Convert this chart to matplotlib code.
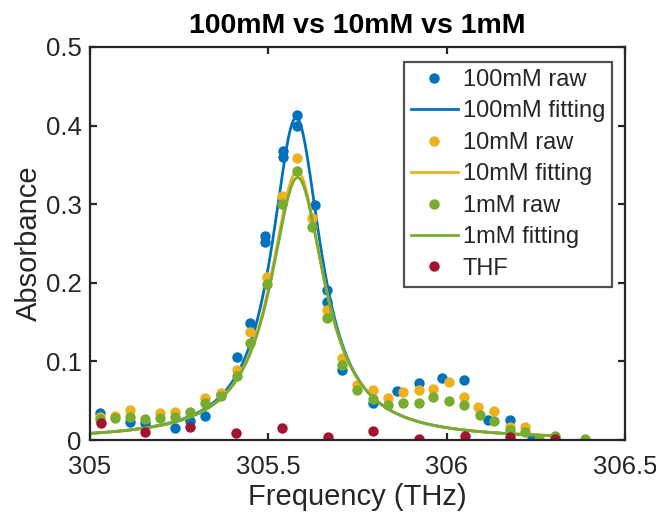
import numpy as np
import matplotlib
matplotlib.use("Agg")
import matplotlib.pyplot as plt

plt.rcParams['font.family'] = ['Liberation Sans', 'DejaVu Sans']

# ---- measured absorbance (THz, a.u.) ----
f_100 = [305.028, 305.112, 305.154, 305.238, 305.280, 305.322, 305.367, 305.412,
         305.449, 305.491, 305.491, 305.541, 305.541, 305.580, 305.580, 305.631,
         305.664, 305.664, 305.706, 305.793, 305.861, 305.922, 305.987, 306.049,
         306.116, 306.177, 306.239]
a_100 = [0.034, 0.023, 0.021, 0.015, 0.024, 0.030, 0.059, 0.105,
         0.149, 0.252, 0.259, 0.360, 0.368, 0.400, 0.414, 0.299,
         0.191, 0.176, 0.089, 0.047, 0.062, 0.073, 0.079, 0.076,
         0.025, 0.025, 0.001]

f_10 = [305.028, 305.070, 305.112, 305.196, 305.238, 305.322, 305.367, 305.412,
        305.449, 305.496, 305.538, 305.580, 305.622, 305.664, 305.706, 305.749,
        305.793, 305.835, 305.877, 305.922, 305.962, 306.006, 306.049, 306.088,
        306.133, 306.177, 306.220, 306.304]
a_10 = [0.029, 0.031, 0.038, 0.034, 0.036, 0.053, 0.060, 0.089,
        0.138, 0.208, 0.310, 0.359, 0.283, 0.165, 0.104, 0.070,
        0.064, 0.053, 0.061, 0.063, 0.065, 0.074, 0.055, 0.042,
        0.037, 0.017, 0.017, 0.001]

f_1 = [305.028, 305.070, 305.112, 305.154, 305.196, 305.238, 305.280, 305.322,
       305.367, 305.412, 305.449, 305.496, 305.538, 305.580, 305.622, 305.664,
       305.706, 305.749, 305.793, 305.835, 305.877, 305.922, 305.962, 306.006,
       306.049, 306.093, 306.133, 306.177, 306.220, 306.259, 306.304, 306.388]
a_1 = [0.027, 0.028, 0.029, 0.027, 0.028, 0.029, 0.036, 0.047,
       0.056, 0.082, 0.123, 0.198, 0.300, 0.342, 0.271, 0.155,
       0.095, 0.063, 0.052, 0.045, 0.047, 0.047, 0.055, 0.049,
       0.044, 0.032, 0.024, 0.013, 0.010, 0.001, 0.005, 0.001]

f_thf = [305.031, 305.154, 305.280, 305.409, 305.538, 305.666, 305.793,
         305.922, 306.051, 306.177, 306.304]
a_thf = [0.022, 0.010, 0.017, 0.009, 0.015, 0.004, 0.012,
         0.001, 0.005, 0.004, 0.001]

# ---- Lorentzian fit results: amplitude, centre (THz), half width (THz) ----
fit_100 = (0.410, 305.578, 0.084)
fit_10 = (0.342, 305.581, 0.092)
fit_1 = (0.334, 305.582, 0.093)
fit_range = (305.0, 306.31)


def lorentz(f, amp, f0, hw):
    return amp / (1.0 + ((f - f0) / hw) ** 2)


C_BLUE = '#0072BD'
C_ORANGE = '#EDB120'
C_GREEN = '#77AC30'
C_RED = '#A2142F'
DARK = '#262626'

fig = plt.figure(figsize=(6.56, 5.18), dpi=100)
ax = fig.add_axes([90 / 656, 1 - 440 / 518, 535 / 656, 393 / 518])

ff = np.linspace(*fit_range, 600)
ms = 7.5
lw = 2.0

ax.plot(f_100, a_100, 'o', color=C_BLUE, ms=ms, mec='none', label='100mM raw')
ax.plot(ff, lorentz(ff, *fit_100), '-', color=C_BLUE, lw=lw, label='100mM fitting')
ax.plot(f_10, a_10, 'o', color=C_ORANGE, ms=ms, mec='none', label='10mM raw')
ax.plot(ff, lorentz(ff, *fit_10), '-', color=C_ORANGE, lw=lw, label='10mM fitting')
ax.plot(f_1, a_1, 'o', color=C_GREEN, ms=ms, mec='none', label='1mM raw')
ax.plot(ff, lorentz(ff, *fit_1), '-', color=C_GREEN, lw=lw, label='1mM fitting')
ax.plot(f_thf, a_thf, 'o', color=C_RED, ms=ms, mec='none', label='THF')

ax.set_xlim(305, 306.5)
ax.set_ylim(0, 0.5)
ax.set_xticks([305, 305.5, 306, 306.5])
ax.set_xticklabels(['305', '305.5', '306', '306.5'])
ax.set_yticks([0, 0.1, 0.2, 0.3, 0.4, 0.5])
ax.set_yticklabels(['0', '0.1', '0.2', '0.3', '0.4', '0.5'])

for s in ax.spines.values():
    s.set_color(DARK)
    s.set_linewidth(1.6)
ax.tick_params(direction='in', length=5, width=1.6, colors=DARK,
               labelsize=18.5, top=True, right=True)
ax.tick_params(axis='x', pad=11)
ax.tick_params(axis='y', pad=6)
for lab in ax.get_xticklabels() + ax.get_yticklabels():
    lab.set_color(DARK)

ax.set_xlabel('Frequency (THz)', fontsize=21, color=DARK, labelpad=3)
ax.set_ylabel('Absorbance', fontsize=21, color=DARK, labelpad=2)
ax.set_title('100mM vs 10mM vs 1mM', fontsize=20.5, fontweight='bold',
             color='black', pad=10)

leg = ax.legend(loc='upper right', bbox_to_anchor=(0.976, 0.962), fontsize=17,
                frameon=True, fancybox=False, handlelength=2.0,
                handletextpad=0.2, borderpad=0.3, labelspacing=0.4,
                borderaxespad=0.0, numpoints=1)
leg.get_frame().set_edgecolor(DARK)
leg.get_frame().set_linewidth(1.6)
for t in leg.get_texts():
    t.set_color(DARK)

fig.savefig('out.png', dpi=100)
